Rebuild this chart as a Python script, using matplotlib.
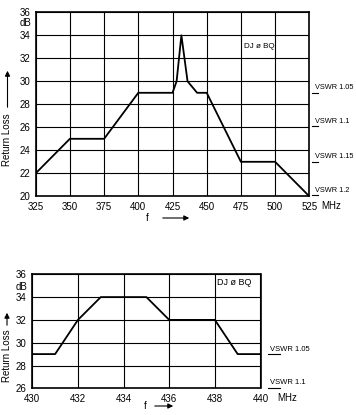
import matplotlib.pyplot as plt
import matplotlib.transforms as mtransforms
from matplotlib.patches import FancyArrowPatch

# Верхний график: 325...525 МГц
top_f = [325, 350, 375, 400, 425, 428, 431.5, 436, 443, 450, 475, 500, 525]
top_rl = [22, 25, 25, 29, 29, 30, 34, 30, 29, 29, 23, 23, 20]
top_xticks = [325, 350, 375, 400, 425, 450, 475, 500, 525]
top_yticks = [20, 22, 24, 26, 28, 30, 32, 34, 36]
top_vswr = ["VSWR 1.05", "VSWR 1.1", "VSWR 1.15", "VSWR 1.2"]
top_vswr_rl = [29.0, 26.1, 23.0, 20.1]

# Нижний график: 430...440 МГц
bot_f = [430, 431, 432, 433, 435, 436, 438, 439, 440]
bot_rl = [29, 29, 32, 34, 34, 32, 32, 29, 29]
bot_xticks = [430, 432, 434, 436, 438, 440]
bot_yticks = [26, 28, 30, 32, 34, 36]
bot_vswr = ["VSWR 1.05", "VSWR 1.1"]
bot_vswr_rl = [29.0, 26.05]

plt.rcParams['font.family'] = ['Liberation Sans', 'DejaVu Sans']
FS = 7
W, H = 356, 415

fig = plt.figure(figsize=(W / 100, H / 100), dpi=100)


def px(x, y):
    # пиксели картинки -> доли фигуры
    return x / W, 1 - y / H


def setup(ax, xticks, yticks, vswr, vswr_rl, line_x, text_x, vs_fs,
          mhz_x, w_px, h_px, db_y):
    ax.set_xlim(xticks[0], xticks[-1])
    ax.set_ylim(yticks[0], yticks[-1])
    ax.set_xticks(xticks)
    ax.set_yticks(yticks)
    ax.tick_params(length=0, labelsize=FS, pad=4)
    ax.grid(True, color='black', linewidth=0.8)
    for s in ax.spines.values():
        s.set_linewidth(1.2)
    tr = mtransforms.blended_transform_factory(ax.transAxes, ax.transData)
    for lab, rl in zip(vswr, vswr_rl):
        ax.plot(line_x, [rl, rl], color='black', lw=0.8, transform=tr, clip_on=False)
        ax.text(text_x, rl + 0.12, lab, transform=tr, fontsize=vs_fs,
                ha='left', va='bottom')
    ax.text(mhz_x, -9.5 / h_px, "MHz", transform=ax.transAxes, fontsize=FS,
            ha='left', va='center')
    ax.text(-4.5 / w_px, db_y, "dB", transform=tr, fontsize=FS,
            ha='right', va='center')


# Верхний
ax1 = fig.add_axes([35.7 / W, 1 - 196.3 / H, 273.6 / W, 184 / H])
ax1.plot(top_f, top_rl, color='black', lw=1.3)
setup(ax1, top_xticks, top_yticks, top_vswr, top_vswr_rl,
      [1.009, 1.03], 1.022, 5.3, 1.045, 273.6, 184, 35.05)
ax1.text(477, 33.0, "DJ ø BQ", fontsize=5.8, ha='left', va='center')

# Нижний
ax2 = fig.add_axes([32.3 / W, 1 - 388.3 / H, 228.2 / W, 114 / H])
ax2.plot(bot_f, bot_rl, color='black', lw=1.3)
setup(ax2, bot_xticks, bot_yticks, bot_vswr, bot_vswr_rl,
      [1.035, 1.085], 1.042, 5.5, 1.072, 228.2, 114, 34.85)
ax2.text(438.1, 35.3, "DJ ø BQ", fontsize=6.5, ha='left', va='center')

# Подписи осей со стрелками
for fx, fy, a0, a1 in [(147, 218, 160, 192), (145, 406, 152, 176)]:
    fig.text(*px(fx, fy), "f", fontsize=FS, ha='center', va='center')
    fig.add_artist(FancyArrowPatch(
        px(a0, fy), px(a1, fy), transform=fig.transFigure,
        arrowstyle='-|>,head_length=3,head_width=1.5', color='black', lw=0.8))

for rx, ry, b0, b1 in [(7.5, 140, 110, 68), (7, 356, 328, 310)]:
    fig.text(*px(rx, ry), "Return Loss", fontsize=FS, rotation=90,
             ha='center', va='center')
    fig.add_artist(FancyArrowPatch(
        px(rx, b0), px(rx, b1), transform=fig.transFigure,
        arrowstyle='-|>,head_length=3,head_width=1.5', color='black', lw=0.8))

fig.savefig("out.png", dpi=100)
